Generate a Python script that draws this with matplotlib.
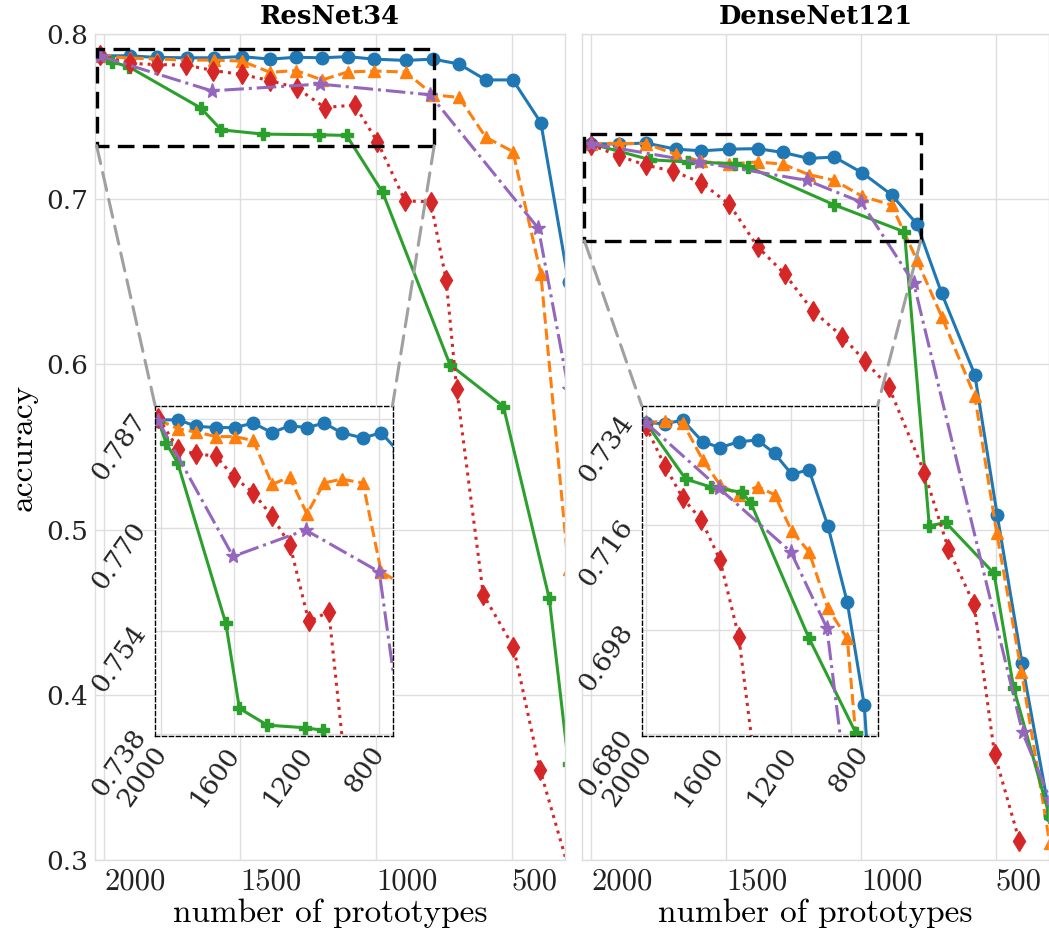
import matplotlib
matplotlib.use("Agg")
import matplotlib.pyplot as plt
from matplotlib.patches import Rectangle, ConnectionPatch
import numpy as np

# ---------------- data ----------------
panel_titles = ["ResNet34", "DenseNet121"]
x_ticks = [2000, 1500, 1000, 500]
y_ticks = [0.3, 0.4, 0.5, 0.6, 0.7, 0.8]

# ResNet34
res_circle_x = [2016, 1906, 1808, 1697, 1596, 1494, 1390, 1294, 1198, 1104, 1007, 890, 789, 693, 595, 495, 392, 290]
res_circle_y = [0.7868, 0.7868, 0.7858, 0.7856, 0.7856, 0.7863, 0.7848, 0.7859, 0.7856, 0.7863, 0.7848, 0.7840,
                0.7848, 0.7818, 0.7722, 0.7722, 0.7463, 0.650]
res_triangle_x = [2016, 1906, 1808, 1697, 1596, 1494, 1390, 1294, 1198, 1104, 1007, 890, 789, 693, 595, 495, 392, 290]
res_triangle_y = [0.7868, 0.7854, 0.7849, 0.7842, 0.7842, 0.7836, 0.7768, 0.7779, 0.7722, 0.7770, 0.7776, 0.7770,
                  0.7632, 0.7616, 0.7375, 0.7288, 0.6547, 0.476]
res_plus_x = [2016, 1973, 1910, 1645, 1570, 1416, 1211, 1108, 975, 727, 530, 361, 290]
res_plus_y = [0.7866, 0.7832, 0.7801, 0.7552, 0.7420, 0.7394, 0.7390, 0.7386, 0.7041, 0.5999, 0.5745, 0.4583, 0.358]
res_diamond_x = [2016, 1906, 1808, 1700, 1599, 1494, 1390, 1292, 1188, 1078, 994, 892, 798, 741, 702, 604, 493, 395, 290]
res_diamond_y = [0.7871, 0.7822, 0.7815, 0.7812, 0.7779, 0.7755, 0.7718, 0.7674, 0.7555, 0.7570, 0.7347, 0.6989,
                 0.6985, 0.6511, 0.5849, 0.4606, 0.4290, 0.3547, 0.295]
res_star_x = [2016, 1605, 1206, 800, 401, 290]
res_star_y = [0.7866, 0.7656, 0.7697, 0.7632, 0.6823, 0.585]

# DenseNet121
den_circle_x = [2003, 1898, 1798, 1688, 1592, 1488, 1384, 1290, 1194, 1099, 995, 887, 793, 701, 578, 495, 403, 300]
den_circle_y = [0.7336, 0.7334, 0.7340, 0.7303, 0.7293, 0.7303, 0.7306, 0.7283, 0.7247, 0.7255, 0.7159, 0.7027,
                0.6850, 0.6430, 0.5937, 0.5087, 0.4192, 0.327]
den_triangle_x = [2003, 1898, 1798, 1688, 1592, 1488, 1384, 1290, 1194, 1099, 995, 887, 793, 701, 578, 497, 405, 300]
den_triangle_y = [0.7336, 0.7338, 0.7336, 0.7272, 0.7229, 0.7212, 0.7226, 0.7212, 0.7149, 0.7114, 0.7017, 0.6965,
                  0.6632, 0.6289, 0.5806, 0.4980, 0.4140, 0.310]
den_plus_x = [2003, 1782, 1641, 1469, 1420, 1100, 839, 747, 686, 507, 434, 300]
den_plus_y = [0.7336, 0.7239, 0.7225, 0.7216, 0.7197, 0.6966, 0.6802, 0.5022, 0.5043, 0.4735, 0.4041, 0.326]
den_diamond_x = [2003, 1898, 1798, 1696, 1592, 1488, 1384, 1283, 1179, 1069, 985, 897, 765, 676, 581, 505, 413]
den_diamond_y = [0.7330, 0.7262, 0.7206, 0.7169, 0.7100, 0.6968, 0.6713, 0.6547, 0.6325, 0.6168, 0.6019, 0.5863,
                 0.5345, 0.4882, 0.4548, 0.3643, 0.3115]
den_star_x = [2003, 1600, 1200, 1000, 805, 401, 300]
den_star_y = [0.7336, 0.7224, 0.7114, 0.6983, 0.6494, 0.3772, 0.337]

# zoomed insets
res_inset_xlim = (2034, 727)
res_inset_ylim = (0.7377, 0.7890)
res_inset_yticks = [0.738, 0.754, 0.770, 0.787]
den_inset_xlim = (2025, 719)
den_inset_ylim = (0.6797, 0.7365)
den_inset_yticks = [0.680, 0.698, 0.716, 0.734]
inset_xticks = [2000, 1600, 1200, 800]

# highlighted region boxes (x_left, x_right, y_bottom, y_top)
res_box = (2029, 785, 0.7324, 0.7909)
den_box = (2026, 779, 0.6748, 0.7392)

# ---------------- styling ----------------
styles = [
    dict(color="#1f77b4", marker="o", ls="-", ms=9),
    dict(color="#ff7f0e", marker="^", ls="--", ms=9),
    dict(color="#2ca02c", marker="P", ls="-", ms=9),
    dict(color="#d62728", marker="d", ls=":", ms=10),
    dict(color="#9467bd", marker="*", ls="-.", ms=11),
]

panels = [
    dict(series=[(res_circle_x, res_circle_y), (res_triangle_x, res_triangle_y), (res_plus_x, res_plus_y),
                 (res_diamond_x, res_diamond_y), (res_star_x, res_star_y)],
         ixlim=res_inset_xlim, iylim=res_inset_ylim, iyticks=res_inset_yticks, box=res_box),
    dict(series=[(den_circle_x, den_circle_y), (den_triangle_x, den_triangle_y), (den_plus_x, den_plus_y),
                 (den_diamond_x, den_diamond_y), (den_star_x, den_star_y)],
         ixlim=den_inset_xlim, iylim=den_inset_ylim, iyticks=den_inset_yticks, box=den_box),
]

GRID = "#dedede"
SERIF = "DejaVu Serif"
CM = "cmr10"

fig = plt.figure(figsize=(10.49, 9.30), dpi=100)
axes_rects = [[95 / 1049, 70 / 930, 470 / 1049, 826 / 930],
              [582 / 1049, 70 / 930, 467 / 1049, 826 / 930]]

for i, (p, rect) in enumerate(zip(panels, axes_rects)):
    ax = fig.add_axes(rect)
    ax.set_facecolor("white")
    for (xs, ys), st in zip(p["series"], styles):
        ax.plot(xs, ys, color=st["color"], marker=st["marker"], ls=st["ls"], ms=st["ms"], lw=2.2)
    ax.set_xlim(2035, 303)
    ax.set_ylim(0.3, 0.8)
    ax.set_xticks(x_ticks)
    ax.set_xticklabels([str(t) for t in x_ticks], family=CM, fontsize=22, ha="left")
    ax.set_yticks(y_ticks)
    if i == 0:
        ax.set_yticklabels([f"{t:.1f}" for t in y_ticks], family=SERIF, fontsize=19)
        ax.set_ylabel("accuracy", family=CM, fontsize=24, labelpad=6)
    else:
        ax.tick_params(labelleft=False)
    ax.tick_params(length=0, pad=6, colors="#222222")
    ax.tick_params(axis="y", pad=5)
    ax.grid(True, color=GRID, lw=1)
    ax.set_axisbelow(True)
    for s in ax.spines.values():
        s.set_color(GRID)
        s.set_linewidth(1)
    ax.set_xlabel("number of prototypes", family=CM, fontsize=24, labelpad=2)
    ax.set_title(panel_titles[i], family=SERIF, fontweight="bold", fontsize=18.5, pad=7)

    # highlighted box
    xl, xr, yb, yt = p["box"]
    ax.add_patch(Rectangle((xr, yb), xl - xr, yt - yb, fill=False, ec="black", ls=(0, (5, 2.5)), lw=2.4,
                           zorder=5))

    # inset
    axins = ax.inset_axes([0.128, 0.150, 0.505, 0.400])
    axins.set_facecolor("white")
    for (xs, ys), st in zip(p["series"], styles):
        axins.plot(xs, ys, color=st["color"], marker=st["marker"], ls=st["ls"], ms=st["ms"], lw=2.2)
    axins.set_xlim(*p["ixlim"])
    axins.set_ylim(*p["iylim"])
    axins.set_xticks(inset_xticks)
    axins.set_xticklabels([str(t) for t in inset_xticks], family=SERIF, fontsize=19, rotation=55,
                          ha="right", va="center", rotation_mode="anchor")
    axins.set_yticks(p["iyticks"])
    axins.set_yticklabels([f"{t:.3f}" for t in p["iyticks"]], family=SERIF, fontsize=19, rotation=55)
    axins.tick_params(length=0, pad=3, colors="#222222")
    axins.tick_params(axis="x", pad=9)
    axins.grid(True, color=GRID, lw=1)
    axins.set_axisbelow(True)
    for s in axins.spines.values():
        s.set_color("black")
        s.set_linestyle((0, (3, 2)))
        s.set_linewidth(1.0)

    # connectors
    for (cx, ic) in [(xl, (0, 1)), (xr, (1, 1))]:
        con = ConnectionPatch(xyA=(cx, yb), coordsA=ax.transData, xyB=ic, coordsB=axins.transAxes,
                              color="#a0a0a0", ls=(0, (6, 3)), lw=2.2, zorder=4)
        fig.add_artist(con)

fig.savefig("out.png", dpi=100)
